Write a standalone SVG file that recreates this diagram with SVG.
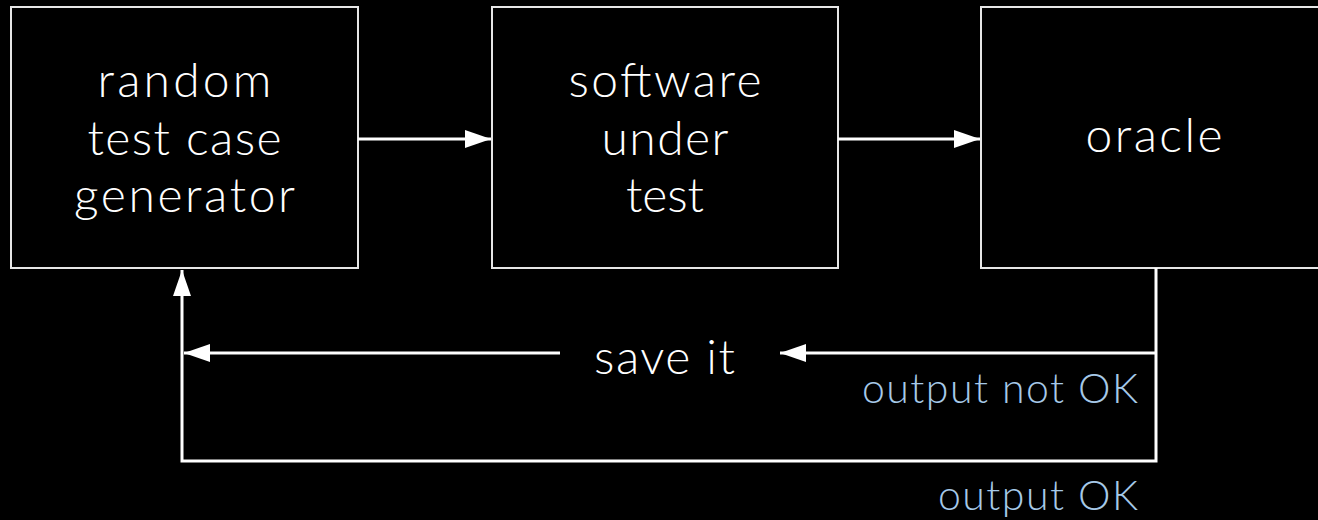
<svg xmlns="http://www.w3.org/2000/svg" width="1318" height="520" viewBox="0 0 1318 520">
<style>
.box{fill:#000;stroke:#e6e6e6;stroke-width:2}
.t{font-family:Lato,"Open Sans",sans-serif;font-weight:300;font-size:48px;fill:#fff;text-anchor:middle}
.lbl{font-family:Lato,"Open Sans",sans-serif;font-weight:300;font-size:41px;fill:#a6c9e8}
.c{fill:none;stroke:#fff;stroke-width:3}
</style>
<defs>
<marker id="ah" markerUnits="userSpaceOnUse" markerWidth="26" markerHeight="18" refX="26" refY="9" orient="auto">
<path d="M0,0 L26,9 L0,18 z" fill="#fff"/>
</marker>
</defs>
<rect width="1318" height="520" fill="#000"/>
<g id="generator">
<rect class="box" x="11" y="7" width="347" height="261"/>
<text class="t" x="184.5" y="97" textLength="174" lengthAdjust="spacing">random</text>
<text class="t" x="184.5" y="155" textLength="194" lengthAdjust="spacing">test case</text>
<text class="t" x="184.5" y="212" textLength="221" lengthAdjust="spacing">generator</text>
</g>
<g id="sut">
<rect class="box" x="492" y="7" width="346" height="261"/>
<text class="t" x="665" y="97" textLength="193" lengthAdjust="spacing">software</text>
<text class="t" x="665" y="155" textLength="127" lengthAdjust="spacing">under</text>
<text class="t" x="665" y="212" textLength="78" lengthAdjust="spacing">test</text>
</g>
<g id="oracle">
<rect class="box" x="981" y="7" width="346" height="261"/>
<text class="t" x="1154" y="152" textLength="137" lengthAdjust="spacing">oracle</text>
</g>
<g id="saveit">
<text class="t" x="664.5" y="374" textLength="141" lengthAdjust="spacing">save it</text>
</g>
<g id="connectors">
<line class="c" x1="358" y1="139" x2="491" y2="139" marker-end="url(#ah)"/>
<line class="c" x1="838" y1="139" x2="980" y2="139" marker-end="url(#ah)"/>
<path class="c" d="M1156,268 V461 H182 V270" marker-end="url(#ah)"/>
<path class="c" d="M1156,353 H780" marker-end="url(#ah)"/>
<path class="c" d="M560,353 H184" marker-end="url(#ah)"/>
<text class="lbl" x="862" y="403" textLength="276" lengthAdjust="spacing">output not OK</text>
<text class="lbl" x="938" y="510" textLength="200" lengthAdjust="spacing">output OK</text>
</g>
</svg>
